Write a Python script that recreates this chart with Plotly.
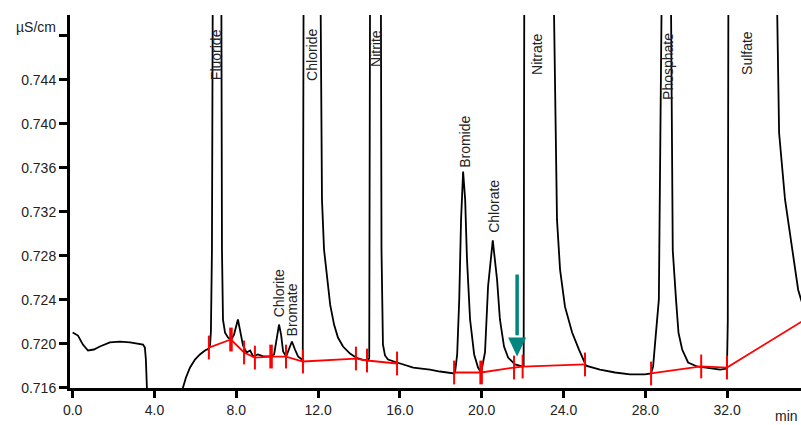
import plotly.graph_objects as go

# ---------------- data ----------------
time_min = [
    0.00, 0.26, 0.50, 0.75, 1.04, 1.33, 1.82, 2.31, 2.80, 3.29, 3.44, 3.53, 3.58, 3.63, 3.70,
    5.30, 5.39, 5.54, 5.74, 5.98, 6.22, 6.47, 6.66, 6.72, 6.76, 6.81, 6.85, 7.05, 7.27, 7.30,
    7.35, 7.45, 7.60, 7.75, 7.89, 8.08, 8.23, 8.33, 8.50, 8.68, 8.82, 9.06, 9.31, 9.65, 9.85,
    10.00, 10.09, 10.19, 10.29, 10.44, 10.58, 10.72, 10.87, 11.02, 11.21, 11.25, 11.29, 11.75, 12.12, 12.19,
    12.29, 12.44, 12.59, 12.78, 12.97, 13.22, 13.56, 13.85, 14.15, 14.44, 14.50, 14.54, 14.80, 15.07, 15.10,
    15.17, 15.27, 15.42, 15.66, 15.86, 16.65, 17.47, 17.96, 18.65, 18.70, 18.80, 18.90, 18.99, 19.09, 19.19,
    19.28, 19.43, 19.63, 19.82, 19.97, 20.16, 20.31, 20.54, 20.75, 20.89, 21.09, 21.29, 21.63, 21.97, 22.05,
    22.08, 22.80, 23.52, 23.68, 23.83, 24.07, 24.42, 24.75, 25.10, 25.78, 26.52, 27.25, 27.98, 28.28, 28.38,
    28.52, 28.66, 28.80, 29.05, 29.25, 29.34, 29.50, 29.62, 29.80, 30.09, 30.53, 31.02, 31.66, 31.99, 32.00,
    32.03, 32.06, 33.30, 34.43, 34.54, 34.83, 35.17, 35.47, 35.61, 35.80,
]
signal_uScm = [
    0.72102, 0.72075, 0.71993, 0.71939, 0.71948, 0.71975, 0.72012, 0.72020, 0.72012, 0.72002, 0.71993, 0.71966, 0.71857, 0.71600, 0.71200,
    0.71200, 0.71600, 0.71694, 0.71785, 0.71857, 0.71903, 0.71939, 0.71957, 0.71993, 0.72112, 0.72854, 0.75200, 0.78000, 0.75200, 0.72854,
    0.72219, 0.72101, 0.72056, 0.72038, 0.72084, 0.72221, 0.72084, 0.71984, 0.71921, 0.71939, 0.71885, 0.71903, 0.71885, 0.71885, 0.71903,
    0.72084, 0.72175, 0.72084, 0.71930, 0.71885, 0.71948, 0.72021, 0.71948, 0.71885, 0.71857, 0.71850, 0.75200, 0.78000, 0.75200, 0.73311,
    0.72857, 0.72583, 0.72356, 0.72175, 0.72057, 0.71975, 0.71911, 0.71875, 0.71857, 0.71848, 0.71870, 0.75200, 0.78000, 0.75200, 0.72854,
    0.71994, 0.71894, 0.71857, 0.71839, 0.71830, 0.71784, 0.71766, 0.71748, 0.71730, 0.71748, 0.71903, 0.72403, 0.73130, 0.73566, 0.73311,
    0.72766, 0.72221, 0.71903, 0.71784, 0.71739, 0.71921, 0.72521, 0.72940, 0.72583, 0.72221, 0.71975, 0.71875, 0.71812, 0.71794, 0.71800,
    0.75200, 0.78000, 0.75200, 0.73129, 0.72675, 0.72338, 0.72102, 0.71950, 0.71801, 0.71766, 0.71739, 0.71721, 0.71721, 0.71730, 0.71794,
    0.72102, 0.72402, 0.75200, 0.78000, 0.75200, 0.72850, 0.72402, 0.72102, 0.71948, 0.71830, 0.71794, 0.71784, 0.71766, 0.71775, 0.71850,
    0.72200, 0.75200, 0.78000, 0.75200, 0.73917, 0.73310, 0.72856, 0.72492, 0.72402, 0.72300,
]

# integration baselines (None = gap between groups)
baseline_t = [6.66, 7.74, 8.38, 8.91, 9.70, 10.43, 11.26, 13.85, 14.39, 15.86, None,
              18.65, 19.97, 21.58, 22.00, 25.05, None,
              28.28, 30.73, 31.99, 35.80]
baseline_v = [0.71966, 0.72039, 0.71921, 0.71875, 0.71884, 0.71884, 0.71839, 0.71866, 0.71848, 0.71821, None,
              0.71739, 0.71739, 0.71784, 0.71793, 0.71812, None,
              0.71730, 0.71794, 0.71784, 0.72220]

peak_names = ["Fluoride", "Chlorite", "Bromate", "Chloride", "Nitrite",
              "Bromide", "Chlorate", "Nitrate", "Phosphate", "Sulfate"]
label_t = [7.02, 10.08, 10.77, 11.70, 14.83, 19.18, 20.60, 22.70, 29.11, 32.97]
label_v = [0.74627, 0.72457, 0.72312, 0.74627, 0.74690, 0.73836, 0.73246, 0.74636, 0.74518, 0.74645]

x_tick_vals = [0, 4, 8, 12, 16, 20, 24, 28, 32]
x_tick_text = ["0.0", "4.0", "8.0", "12.0", "16.0", "20.0", "24.0", "28.0", "32.0"]
y_tick_vals = [0.716, 0.720, 0.724, 0.728, 0.732, 0.736, 0.740, 0.744, 0.748]
y_tick_text = ["0.716", "0.720", "0.724", "0.728", "0.732", "0.736", "0.740", "0.744", ""]

# marker arrow (teal)
arrow_t = 21.73
arrow_top = 0.7263
arrow_head_base = 0.72057
arrow_tip = 0.71885
arrow_half_w = 0.44

FONT = "Liberation Sans, Arial, sans-serif"
TXT = "#222222"
TEAL = "#00857F"

# plot area spans window px x 70..801, y 15..388
PLOT_L, PLOT_T, PLOT_W, PLOT_H = 70, 15, 731, 373


def px_to_paper(px, py):
    return (px - PLOT_L) / PLOT_W, 1 - (py - PLOT_T) / PLOT_H


fig = go.Figure()

fig.add_trace(go.Scatter(
    x=time_min, y=signal_uScm, mode="lines",
    line=dict(color="black", width=1.8), hoverinfo="skip", showlegend=False,
))

thick = [2, 3.5, 2, 2, 3.5, 2, 2, 2, 2, 2, 2, 2, 3.5, 2, 2, 2, 2, 2, 2, 2, 2]
fig.add_trace(go.Scatter(
    x=baseline_t, y=baseline_v, mode="lines+markers", connectgaps=False,
    line=dict(color="#FF0000", width=1.8),
    marker=dict(symbol="line-ns", size=17, color="#FF0000",
                line=dict(color="#FF0000", width=thick)),
    hoverinfo="skip", showlegend=False,
))

for name, t, v in zip(peak_names, label_t, label_v):
    fig.add_annotation(x=t, y=v, xref="x", yref="y", text=name, textangle=-90,
                       showarrow=False, xanchor="center", yanchor="middle",
                       font=dict(family=FONT, size=14, color=TXT))

# teal arrow
fig.add_shape(type="line", xref="x", yref="y",
              x0=arrow_t, x1=arrow_t, y0=arrow_top, y1=arrow_head_base + 0.0002,
              line=dict(color=TEAL, width=3.5))
fig.add_shape(type="path", xref="x", yref="y",
              path=f"M {arrow_t - arrow_half_w},{arrow_head_base} L {arrow_t + arrow_half_w},{arrow_head_base} "
                   f"L {arrow_t},{arrow_tip} Z",
              fillcolor=TEAL, line=dict(color=TEAL, width=0))

ux, uy = px_to_paper(36, 27)
fig.add_annotation(x=ux, y=uy, xref="paper", yref="paper", text="µS/cm", showarrow=False,
                   xanchor="center", yanchor="middle",
                   font=dict(family=FONT, size=14, color=TXT))
mx, my = px_to_paper(800, 416)
fig.add_annotation(x=mx, y=my, xref="paper", yref="paper",
                   text="min", showarrow=False, xanchor="right", yanchor="middle",
                   font=dict(family=FONT, size=14, color=TXT))

fig.update_layout(
    width=801, height=425,
    margin=dict(l=70, r=0, t=15, b=37, autoexpand=False),
    paper_bgcolor="white", plot_bgcolor="white",
    font=dict(family=FONT, size=14, color=TXT),
    xaxis=dict(range=[-0.13, 35.61], showgrid=False, zeroline=False,
               showline=True, linecolor="black", linewidth=3,
               ticks="outside", ticklen=7, tickwidth=3, tickcolor="black",
               tickvals=x_tick_vals, ticktext=x_tick_text, automargin=False,
               tickfont=dict(family=FONT, size=14, color=TXT)),
    yaxis=dict(range=[0.71598, 0.7499], showgrid=False, zeroline=False,
               showline=True, linecolor="black", linewidth=3,
               ticks="outside", ticklen=8, tickwidth=3, tickcolor="black",
               tickvals=y_tick_vals, ticktext=y_tick_text, automargin=False,
               tickfont=dict(family=FONT, size=14, color=TXT)),
)

fig.write_html(
    "out.html",
    config={"displayModeBar": False},
    post_script="document.body.style.margin='0';document.body.style.overflow='hidden';",
)
